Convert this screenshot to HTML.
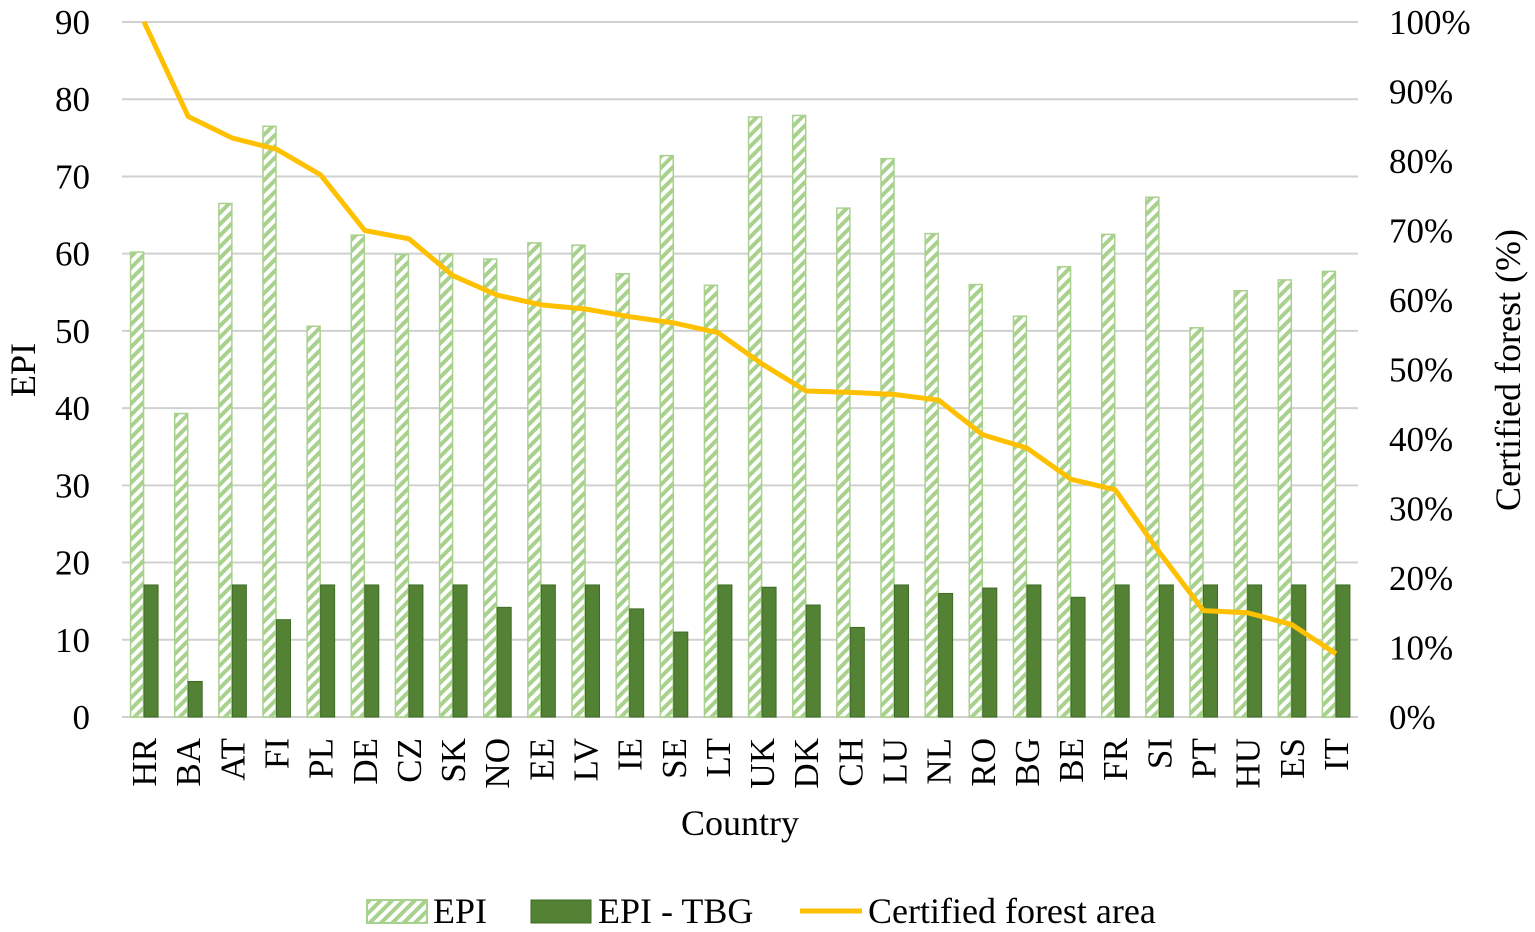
<!DOCTYPE html>
<html><head><meta charset="utf-8"><style>
html,body{margin:0;padding:0;background:#fff;}
svg{display:block;font-family:"Liberation Serif",serif;}
</style></head><body>
<svg id="chart" width="1535" height="932">
<defs>
<pattern id="hatch" patternUnits="userSpaceOnUse" width="8" height="8" patternTransform="rotate(-45)">
<rect width="8" height="8" fill="#fff"/>
<rect width="8" height="4" fill="#a9d18e"/>
</pattern>
</defs>
<g id="grid"></g><g id="bars"></g><g id="line"></g><g id="axes"></g>
<g>
<rect x="367" y="900" width="60" height="23" fill="url(#hatch)" stroke="#a9d18e" stroke-width="2"/>
<text x="433" y="923" font-size="36">EPI</text>
<rect x="531" y="900" width="60" height="23" fill="#548235" stroke="#3e6b26"/>
<text x="598" y="923" font-size="36">EPI - TBG</text>
<line x1="800" y1="911" x2="862" y2="911" stroke="#ffc000" stroke-width="5"/>
<text x="868" y="923" font-size="36">Certified forest area</text>
</g>
<text x="740" y="835" font-size="36" text-anchor="middle">Country</text>
<text transform="translate(35,370) rotate(-90)" font-size="36" text-anchor="middle">EPI</text>
<text transform="translate(1520,370) rotate(-90)" font-size="36" text-anchor="middle">Certified forest (%)</text>
</svg>
<script>
const countries=["HR","BA","AT","FI","PL","DE","CZ","SK","NO","EE","LV","IE","SE","LT","UK","DK","CH","LU","NL","RO","BG","BE","FR","SI","PT","HU","ES","IT"];
const epi=[60.2,39.3,66.5,76.5,50.6,62.4,59.9,60,59.3,61.4,61.1,57.4,72.7,55.9,77.7,77.9,65.9,72.3,62.6,56,51.9,58.3,62.5,67.3,50.4,55.2,56.6,57.7];
const epiTbg=[17.1,4.6,17.1,12.6,17.1,17.1,17.1,17.1,14.2,17.1,17.1,14.0,11.0,17.1,16.8,14.5,11.6,17.1,16.0,16.7,17.1,15.5,17.1,17.1,17.1,17.1,17.1,17.1];
const certified=[100,86.4,83.3,81.7,78,70,68.8,63.5,60.7,59.3,58.7,57.6,56.7,55.3,50.8,46.9,46.7,46.4,45.6,40.6,38.7,34.2,32.7,23.7,15.3,15,13.3,9.1];
const leftTicks=[0,10,20,30,40,50,60,70,80,90];
const rightTicks=[0,10,20,30,40,50,60,70,80,90,100];
const NS="http://www.w3.org/2000/svg";
const X0=122,X1=1358,Y0=717,Y1=22;
const step=(X1-X0)/countries.length;
const y=v=>Y0-(v/90)*(Y0-Y1);
const y2=v=>Y0-(v/100)*(Y0-Y1);
const cx=i=>X0+step*(i+0.5);
function mk(tag,attrs,parent){const e=document.createElementNS(NS,tag);for(const k in attrs)e.setAttribute(k,attrs[k]);document.getElementById(parent).appendChild(e);return e;}
leftTicks.forEach(t=>{
 const l=mk('line',{x1:X0,x2:X1,y1:y(t),y2:y(t),stroke:'#d0d0d0','stroke-width':2},'grid');
 
 
 const tx=mk('text',{x:90,y:y(t)+12,'font-size':35,'text-anchor':'end'},'axes');tx.textContent=t;
 
 
});
rightTicks.forEach(t=>{
 const tx=mk('text',{x:1389,y:y2(t)+12,'font-size':35},'axes');tx.textContent=t+'%';
 
 
});
countries.forEach((c,i)=>{
 const b=mk('rect',{x:cx(i)-13.5,y:y(epi[i]),width:13,height:Y0-y(epi[i]),fill:'url(#hatch)',stroke:'#a9d18e','stroke-width':1.5},'bars');
 
 
 const d=mk('rect',{x:cx(i),y:y(epiTbg[i]),width:14,height:Y0-y(epiTbg[i]),fill:'#548235',stroke:'#3e6b26','stroke-width':1},'bars');
 
 
 const tx=mk('text',{transform:`translate(${cx(i)+12},738) rotate(-90)`,'font-size':35,'text-anchor':'end'},'axes');tx.textContent=c;
 
 
});
const p=mk('polyline',{points:certified.map((v,i)=>cx(i)+','+y2(v)).join(' '),fill:'none',stroke:'#ffc000','stroke-width':5,'stroke-linejoin':'round'},'line');


</script>
</body></html>
